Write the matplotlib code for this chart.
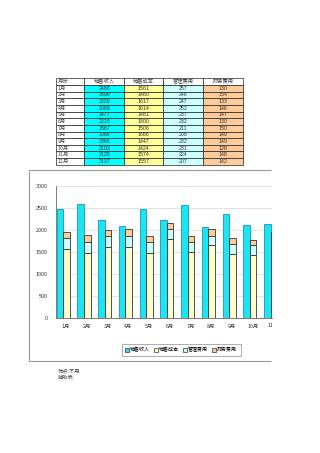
import matplotlib
matplotlib.use("Agg")
import matplotlib.pyplot as plt
from matplotlib.patches import Rectangle, Patch
from matplotlib.transforms import Bbox
import numpy as np

plt.rcParams['font.family'] = ['Noto Sans CJK SC', 'DejaVu Sans']

headers = ["月份", "销售收入", "销售成本", "管理费用", "财务费用"]
months = ["1月", "2月", "3月", "4月", "5月", "6月", "7月", "8月", "9月", "10月", "11月", "12月"]
revenue = [2488, 2596, 2220, 2089, 2477, 2218, 2567, 2066, 2368, 2103, 2129, 2137]
cost = [1561, 1480, 1617, 1614, 1481, 1800, 1506, 1666, 1447, 1424, 1574, 1557]
admin = [257, 248, 247, 252, 237, 232, 211, 208, 232, 231, 224, 207]
finance = [130, 154, 133, 146, 147, 130, 150, 149, 149, 128, 148, 142]
yticks = [0, 500, 1000, 1500, 2000, 2500, 3000]
note = "优点:不用\n辅助表."

W, H = 320, 453
fig = plt.figure(figsize=(W / 100, H / 100), dpi=100)

def fx(px):
    return px / W

def fy(py):
    return 1 - py / H

# ---------- table ----------
tab = fig.add_axes([0, 0, 1, 1])
tab.set_xlim(0, W)
tab.set_ylim(H, 0)
tab.axis('off')
col_x = [56, 84.3, 124, 163.3, 203.3, 243.3]
row_top, row_h = 78.3, 6.65
col_colors = [None, '#00FFFF', '#FFFF99', '#CCFFFF', '#FFCC99']
series = [revenue, cost, admin, finance]
for c, h in enumerate(headers):
    x0, x1 = col_x[c], col_x[c + 1]
    tab.add_patch(Rectangle((x0, row_top), x1 - x0, row_h, facecolor='white',
                            edgecolor='#222222', lw=0.5))
    if c == 0:
        tab.text(x0 + 1.5, row_top + row_h / 2, h, fontsize=3.8, ha='left', va='center', color='#444444')
    else:
        tab.text((x0 + x1) / 2, row_top + row_h / 2, h, fontsize=3.8, ha='center', va='center', color='#444444')
for r, m in enumerate(months):
    y0 = row_top + (r + 1) * row_h
    for c in range(5):
        x0, x1 = col_x[c], col_x[c + 1]
        fc = 'white' if c == 0 else col_colors[c]
        tab.add_patch(Rectangle((x0, y0), x1 - x0, row_h, facecolor=fc,
                                edgecolor='#222222', lw=0.5))
        if c == 0:
            tab.text(x0 + 1.5, y0 + row_h / 2, m, fontsize=3.8, ha='left', va='center', color='#444444')
        else:
            tab.text((x0 + x1) / 2, y0 + row_h / 2, str(series[c - 1][r]), fontsize=3.8,
                     ha='center', va='center', color='#333333', family='Liberation Sans')

# chart frame (right edge clipped away in the reference)
tab.plot([29, 271], [170, 170], color='#999999', lw=0.8, solid_capstyle='butt')
tab.plot([29, 29], [170, 361], color='#999999', lw=0.8, solid_capstyle='butt')
tab.plot([29, 271], [361, 361], color='#999999', lw=0.8, solid_capstyle='butt')

tab.text(57.5, 374, note, fontsize=3.8, ha='left', va='center', color='#444444', linespacing=1.3)

# ---------- bar chart (clipped at the right like the reference) ----------
cat_w = 20.73
left_px, right_px = 55.7, 271.5
ax = fig.add_axes([fx(left_px), fy(318), fx(right_px - left_px), (318 - 186) / H])
x = np.arange(len(months))
bw = 0.315
ax.bar(x - 0.45, revenue, width=bw, align='edge', color='#1CE4F2', edgecolor='#139AAE', lw=0.6, zorder=3)
ax.bar(x - 0.45 + bw, cost, width=bw, align='edge', color='#FFFFCC', edgecolor='#333333', lw=0.6, zorder=3)
ax.bar(x - 0.45 + bw, admin, width=bw, align='edge', bottom=cost, color='#CCFFFF', edgecolor='#333333', lw=0.6, zorder=3)
bot2 = [a + b for a, b in zip(cost, admin)]
ax.bar(x - 0.45 + bw, finance, width=bw, align='edge', bottom=bot2, color='#FFCC99', edgecolor='#333333', lw=0.6, zorder=3)
ax.set_xlim(-0.5, -0.5 + (right_px - left_px) / cat_w)
ax.set_ylim(0, 3000)
ax.set_yticks(yticks)
ax.set_yticklabels([str(v) for v in yticks], fontsize=3.8, color='#333333', family='Liberation Sans')
vis = [i for i in x if i <= ax.get_xlim()[1]]
ax.set_xticks(vis)
ax.set_xticklabels([months[i] for i in vis], fontsize=3.8, color='#333333')
ax.tick_params(axis='x', length=0, pad=4)
ax.tick_params(axis='y', length=0, pad=6)
ax.grid(axis='y', color='#dddddd', lw=0.6, zorder=0)
for s in ['top', 'right']:
    ax.spines[s].set_visible(False)
ax.spines['left'].set_color('#666666')
ax.spines['bottom'].set_color('#666666')
ax.spines['left'].set_linewidth(0.6)
ax.spines['bottom'].set_linewidth(0.6)

# partially visible category label beyond the clip edge
clip = Bbox.from_extents(0, 0, right_px, H)
for i in x:
    if i > ax.get_xlim()[1] and i < ax.get_xlim()[1] + 1:
        t = ax.text(i, -0.06, months[i], transform=ax.get_xaxis_transform(), fontsize=3.8,
                    color='#333333', ha='center', va='center', clip_on=True)
        t.set_clip_box(clip)

# legend
handles = [Patch(facecolor='#1CE4F2', edgecolor='#333333', lw=0.5),
           Patch(facecolor='#FFFFCC', edgecolor='#333333', lw=0.5),
           Patch(facecolor='#CCFFFF', edgecolor='#333333', lw=0.5),
           Patch(facecolor='#FFCC99', edgecolor='#333333', lw=0.5)]
leg = fig.legend(handles, headers[1:], loc='center', bbox_to_anchor=(fx(181), fy(350)),
                 ncol=4, fontsize=3.6, handlelength=0.7, handleheight=0.7, handletextpad=0.3,
                 columnspacing=0.8, frameon=True, fancybox=False, borderpad=0.7)
leg.get_frame().set_edgecolor('#888888')
leg.get_frame().set_linewidth(0.6)

fig.savefig('out.png', dpi=100)
